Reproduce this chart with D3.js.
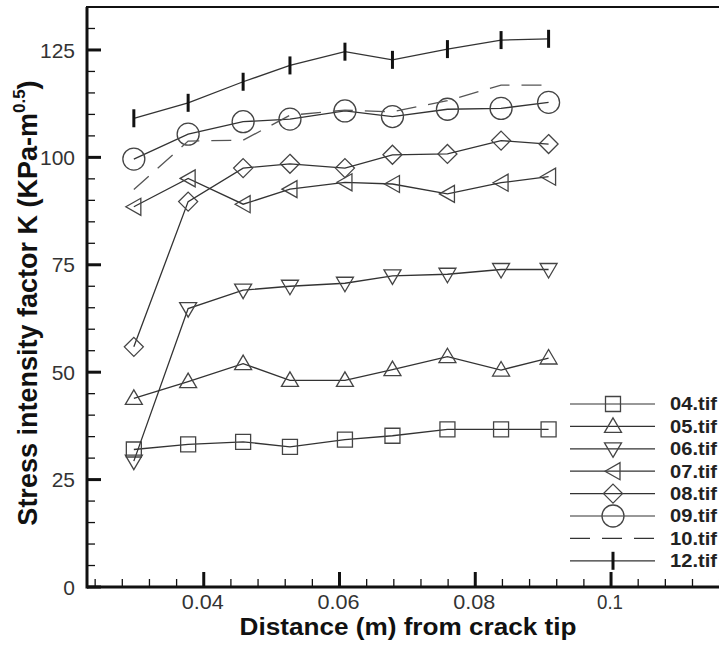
<!DOCTYPE html>
<html>
<head>
<meta charset="utf-8">
<script src="https://cdn.jsdelivr.net/npm/d3@7"></script>
<style>
  body { margin: 0; background: #fff; }
  svg { display: block; font-family: "Liberation Sans", Arial, Helvetica, sans-serif; }
</style>
</head>
<body>
<script>
// distance from crack tip (m)
const distance = [0.0297, 0.0377, 0.0458, 0.0527, 0.0608, 0.0678, 0.0759, 0.0838, 0.0908];

// stress intensity factor per image
const k04 = [32.0, 33.2, 33.8, 32.6, 34.3, 35.2, 36.7, 36.7, 36.7];
const k05 = [43.9, 47.8, 52.0, 48.1, 48.1, 50.6, 53.6, 50.5, 53.3];
const k06 = [29.3, 64.8, 69.1, 70.0, 70.7, 72.4, 72.8, 73.9, 73.9];
const k07 = [88.5, 95.1, 89.1, 92.6, 94.2, 93.8, 91.5, 94.1, 95.5];
const k08 = [55.9, 89.7, 97.5, 98.5, 97.5, 100.6, 100.8, 103.9, 103.1];
const k09 = [99.6, 105.4, 108.3, 108.9, 110.8, 109.5, 111.2, 111.4, 112.8];
const k10 = [92.5, 103.8, 104.0, 109.8, 111.0, 110.6, 113.2, 116.8, 116.8];
const k12 = [109.1, 112.7, 117.6, 121.4, 124.6, 122.7, 125.2, 127.3, 127.6];

const seriesNames = ["04.tif", "05.tif", "06.tif", "07.tif", "08.tif", "09.tif", "10.tif", "12.tif"];
const seriesValues = [k04, k05, k06, k07, k08, k09, k10, k12];
const seriesShapes = ["square", "up", "down", "left", "diamond", "circle", "none", "bar"];

const yTicks = [0, 25, 50, 75, 100, 125];
const xTicks = [0.04, 0.06, 0.08, 0.1];

const width = 719, height = 645;
const plotLeft = 87, plotTop = 7, plotBottom = 587, plotRight = 721;

const svg = d3.select("body").append("svg")
    .attr("width", width)
    .attr("height", height);

const x = d3.scaleLinear().domain([0.0228, 0.1162]).range([plotLeft, plotRight]);
const y = d3.scaleLinear().domain([0, 135]).range([plotBottom, plotTop]);

// marker path centred on 0,0
function shapePath(s) {
    switch (s) {
        case "square": return "M-7.5,-7.5H7.5V7.5H-7.5Z";
        case "up": return "M0,-8.5L8.5,6L-8.5,6Z";
        case "down": return "M0,8.5L8.5,-6L-8.5,-6Z";
        case "left": return "M-8,0L7,-8.5L7,8.5Z";
        case "diamond": return "M0,-9.5L9.5,0L0,9.5L-9.5,0Z";
        case "circle": return "M11,0A11,11 0 1,1 -11,0A11,11 0 1,1 11,0Z";
        default: return null;
    }
}

function drawMarker(g, s) {
    if (s === "bar") {
        g.append("line")
            .attr("y1", -9).attr("y2", 9)
            .attr("stroke", "#111").attr("stroke-width", 3);
    } else if (s !== "none") {
        g.append("path")
            .attr("d", shapePath(s))
            .attr("fill", "none")
            .attr("stroke", "#444")
            .attr("stroke-width", 1.3);
    }
}

// frame
svg.append("rect")
    .attr("x", plotLeft).attr("y", plotTop)
    .attr("width", plotRight - plotLeft).attr("height", plotBottom - plotTop)
    .attr("fill", "none").attr("stroke", "#111").attr("stroke-width", 2);

// y axis ticks
const yMinor = d3.range(0, 136, 5);
svg.append("g").selectAll("line")
    .data(yMinor)
    .join("line")
    .attr("x1", plotLeft)
    .attr("x2", d => plotLeft + (d % 25 === 0 ? 14 : 8))
    .attr("y1", d => y(d)).attr("y2", d => y(d))
    .attr("stroke", "#111")
    .attr("stroke-width", d => d % 25 === 0 ? 3 : 1.3);

svg.append("g").selectAll("text")
    .data(yTicks)
    .join("text")
    .attr("x", 75)
    .attr("y", d => y(d))
    .attr("dy", "0.36em")
    .attr("text-anchor", "end")
    .attr("font-size", 21)
    .attr("fill", "#333")
    .text(d => d);

// x axis ticks
const xMinor = d3.range(0.024, 0.1162, 0.004);
svg.append("g").selectAll("line")
    .data(xMinor)
    .join("line")
    .attr("x1", d => x(d)).attr("x2", d => x(d))
    .attr("y1", plotBottom)
    .attr("y2", d => plotBottom - (Math.round(d / 0.004) % 5 === 0 ? 15 : 8))
    .attr("stroke", "#111")
    .attr("stroke-width", d => Math.round(d / 0.004) % 5 === 0 ? 3 : 1.3);

svg.append("g").selectAll("text")
    .data(xTicks)
    .join("text")
    .attr("x", d => x(d) - 1)
    .attr("y", 609)
    .attr("text-anchor", "middle")
    .attr("font-size", 20)
    .attr("textLength", d => d === 0.1 ? 26 : 42)
    .attr("lengthAdjust", "spacingAndGlyphs")
    .attr("fill", "#333")
    .text(d => d);

// axis lines, thicker on left and bottom
svg.append("line").attr("x1", plotLeft).attr("x2", plotLeft).attr("y1", plotTop).attr("y2", plotBottom + 1.5)
    .attr("stroke", "#111").attr("stroke-width", 3);
svg.append("line").attr("x1", plotLeft).attr("x2", plotRight).attr("y1", plotBottom).attr("y2", plotBottom)
    .attr("stroke", "#111").attr("stroke-width", 3);

// series
const line = d3.line().x((d, i) => x(distance[i])).y(d => y(d));

seriesValues.forEach((vals, si) => {
    const shape = seriesShapes[si];
    svg.append("path")
        .datum(vals)
        .attr("d", line)
        .attr("fill", "none")
        .attr("stroke", shape === "none" ? "#555" : "#333")
        .attr("stroke-width", 1.3)
        .attr("stroke-dasharray", shape === "none" ? "20,12" : null);

    vals.forEach((v, i) => {
        const g = svg.append("g").attr("transform", `translate(${x(distance[i])},${y(v)})`);
        drawMarker(g, shape);
    });
});

// legend
const legend = svg.append("g").attr("transform", "translate(570,404)");
seriesNames.forEach((name, i) => {
    const row = legend.append("g").attr("transform", `translate(0,${i * 22.4})`);
    row.append("line")
        .attr("x1", 0).attr("x2", 85)
        .attr("stroke", "#333").attr("stroke-width", 1.2)
        .attr("stroke-dasharray", seriesShapes[i] === "none" ? "20,12" : null);
    drawMarker(row.append("g").attr("transform", "translate(43,0)"), seriesShapes[i]);
    row.append("text")
        .attr("x", 100).attr("dy", "0.36em")
        .attr("font-size", 18).attr("font-weight", "bold")
        .attr("textLength", 47).attr("lengthAdjust", "spacingAndGlyphs")
        .attr("fill", "#222")
        .text(name);
});

// axis titles
svg.append("text")
    .attr("x", 408).attr("y", 635)
    .attr("text-anchor", "middle")
    .attr("font-size", 23).attr("font-weight", "bold")
    .attr("textLength", 337).attr("lengthAdjust", "spacingAndGlyphs")
    .attr("fill", "#111")
    .text("Distance (m) from crack tip");

const yt = svg.append("text")
    .attr("transform", "translate(37,303) rotate(-90)")
    .attr("text-anchor", "middle")
    .attr("font-size", 27).attr("font-weight", "bold")
    .attr("fill", "#111");
yt.append("tspan").text("Stress intensity factor K (KPa-m");
yt.append("tspan").attr("font-size", 17).attr("dy", -12).text("0.5");
yt.append("tspan").attr("dy", 12).text(")");
</script>
</body>
</html>
